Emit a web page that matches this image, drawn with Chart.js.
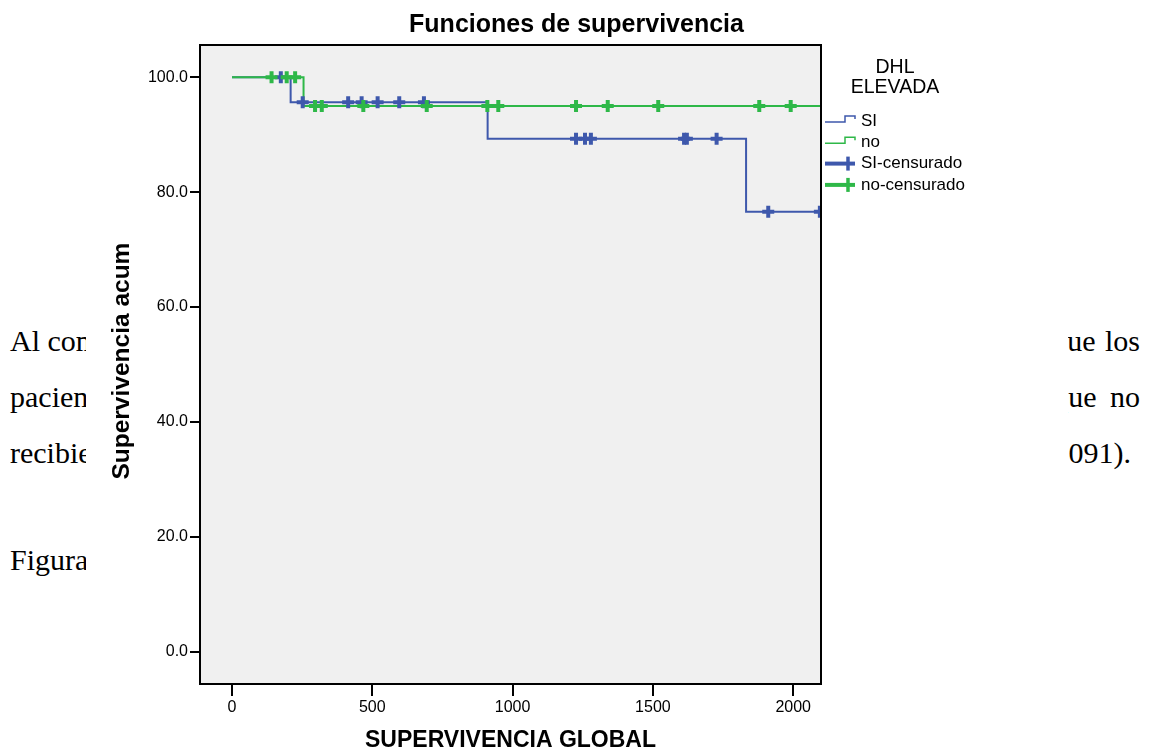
<!DOCTYPE html>
<html>
<head>
<meta charset="utf-8">
<script src="https://cdn.jsdelivr.net/npm/chart.js@4.4.0/dist/chart.umd.min.js"></script>
<style>
  html, body { margin: 0; padding: 0; background: #fff; }
  body { width: 1153px; height: 754px; position: relative; overflow: hidden; }
  .doc { position: absolute; font-family: "Liberation Serif", "Times New Roman", serif; font-size: 30px; line-height: 30px; color: #000; white-space: nowrap; }
  .r { text-align: right; }
  #wrap { position: absolute; left: 0; top: 0; width: 1153px; height: 754px; }
</style>
</head>
<body>
<div class="doc" style="left:10px;top:326px">Al comparar</div>
<div class="doc" style="left:10px;top:382px">pacientes</div>
<div class="doc" style="left:10px;top:438px">recibieron</div>
<div class="doc" style="left:10px;top:545px">Figura 5.</div>
<div class="doc r" style="right:13px;top:326px;word-spacing:2px">que los</div>
<div class="doc r" style="right:13px;top:382px;word-spacing:6px">que no</div>
<div class="doc r" style="right:22px;top:438px">(p=0.091).</div>

<div id="wrap"><canvas id="chart" width="1153" height="754"></canvas></div>

<script>
// axis ticks
const xTicks = [0, 500, 1000, 1500, 2000];
const yTicks = [0, 20, 40, 60, 80, 100];

// Kaplan-Meier steps (time, cumulative survival %)
const siTimes = [0, 209, 911, 1832, 2099];
const siSurv = [100, 95.65, 89.3, 76.6, 76.6];
const noTimes = [0, 255, 2099];
const noSurv = [100, 95.0, 95.0];

// censored cases
const siCensTimes = [174, 252, 414, 462, 519, 596, 684, 1226, 1258, 1279, 1611, 1621, 1727, 1911, 2095];
const siCensSurv = [100, 95.65, 95.65, 95.65, 95.65, 95.65, 95.65, 89.3, 89.3, 89.3, 89.3, 89.3, 89.3, 76.6, 76.6];
const noCensTimes = [141, 195, 225, 296, 320, 468, 694, 910, 949, 1226, 1339, 1519, 1879, 1991];
const noCensSurv = [100, 100, 100, 95, 95, 95, 95, 95, 95, 95, 95, 95, 95, 95];

const legendTitle = ["DHL", "ELEVADA"];
const legendLabels = ["SI", "no", "SI-censurado", "no-censurado"];

const BLUE = "#3e58ac";
const GREEN = "#2eb848";
const FONT = "'Liberation Sans', Arial, sans-serif";

const toPoints = (xs, ys) => xs.map((x, i) => ({ x: x, y: ys[i] }));

/**
 * Draws the white picture box, grey plot area, frame and the legend
 */
const frame = {
  id: "frame",
  beforeDraw(chart) {
    const { ctx, chartArea: a } = chart;
    ctx.save();
    ctx.fillStyle = "#fff";
    ctx.fillRect(86, 0, 1068 - 86, chart.height);
    ctx.fillStyle = "#f0f0f0";
    ctx.fillRect(a.left, a.top, a.right - a.left, a.bottom - a.top);
    ctx.restore();
  },
  afterDraw(chart) {
    const { ctx, chartArea: a } = chart;
    ctx.save();
    ctx.strokeStyle = "#000";
    ctx.lineWidth = 2;
    ctx.strokeRect(a.left, a.top, a.right - a.left, a.bottom - a.top);

    // legend
    ctx.fillStyle = "#000";
    ctx.font = "19.5px " + FONT;
    ctx.textAlign = "center";
    ctx.textBaseline = "middle";
    ctx.fillText(legendTitle[0], 895, 68);
    ctx.fillText(legendTitle[1], 895, 88);

    ctx.font = "17px " + FONT;
    ctx.textAlign = "left";
    const colors = [BLUE, GREEN, BLUE, GREEN];
    legendLabels.forEach((label, i) => {
      const y = 121 + i * 21.3;
      ctx.strokeStyle = colors[i];
      if (i < 2) {
        ctx.lineWidth = 1.5;
        ctx.beginPath();
        ctx.moveTo(825, y + 1);
        ctx.lineTo(845, y + 1);
        ctx.lineTo(845, y - 5);
        ctx.lineTo(855, y - 5);
        ctx.lineTo(855, y - 2);
        ctx.stroke();
      } else {
        ctx.lineWidth = 4;
        ctx.beginPath();
        ctx.moveTo(825, y);
        ctx.lineTo(855, y);
        ctx.stroke();
        ctx.lineWidth = 3.5;
        ctx.beginPath();
        ctx.moveTo(848, y - 7);
        ctx.lineTo(848, y + 7);
        ctx.stroke();
      }
      ctx.fillStyle = "#000";
      ctx.fillText(label, 861, y);
    });
    ctx.restore();
  },
};

const ctx = document.getElementById("chart").getContext("2d");
new Chart(ctx, {
  type: "line",
  data: {
    datasets: [
      {
        label: legendLabels[0],
        data: toPoints(siTimes, siSurv),
        borderColor: BLUE,
        borderWidth: 2,
        stepped: true,
        pointRadius: 0,
        fill: false,
        order: 4,
      },
      {
        label: legendLabels[1],
        data: toPoints(noTimes, noSurv),
        borderColor: GREEN,
        borderWidth: 2,
        stepped: true,
        pointRadius: 0,
        fill: false,
        order: 3,
      },
      {
        label: legendLabels[2],
        data: toPoints(siCensTimes, siCensSurv),
        showLine: false,
        pointStyle: "cross",
        pointRadius: 6,
        pointBorderWidth: 4,
        borderColor: BLUE,
        backgroundColor: BLUE,
        order: 2,
      },
      {
        label: legendLabels[3],
        data: toPoints(noCensTimes, noCensSurv),
        showLine: false,
        pointStyle: "cross",
        pointRadius: 6,
        pointBorderWidth: 4,
        borderColor: GREEN,
        backgroundColor: GREEN,
        order: 1,
      },
    ],
  },
  options: {
    responsive: false,
    animation: false,
    devicePixelRatio: 1,
    layout: { padding: 0 },
    events: [],
    plugins: {
      legend: { display: false },
      tooltip: { enabled: false },
      title: {
        display: true,
        text: "Funciones de supervivencia",
        color: "#000",
        font: { family: FONT, size: 25, weight: "bold", lineHeight: 1.2 },
        padding: { top: 10, bottom: 5 },
      },
    },
    scales: {
      x: {
        type: "linear",
        min: -114,
        max: 2099,
        afterBuildTicks: (scale) => {
          scale.ticks = xTicks.map((v) => ({ value: v }));
        },
        afterFit: (scale) => {
          scale.height = 70;
        },
        ticks: {
          color: "#000",
          font: { family: FONT, size: 16 },
          padding: 2,
          maxRotation: 0,
          callback: (v) => String(v),
        },
        grid: { display: true, drawOnChartArea: false, drawTicks: true, tickLength: 12, color: "#000", lineWidth: 2 },
        border: { display: true, color: "#000", width: 2 },
        title: {
          display: true,
          text: "SUPERVIVENCIA GLOBAL",
          color: "#000",
          font: { family: FONT, size: 23, weight: "bold", lineHeight: 1.2 },
          padding: { top: 0, bottom: 0 },
        },
      },
      y: {
        type: "linear",
        position: "left",
        min: -5.6,
        max: 105.6,
        afterBuildTicks: (scale) => {
          scale.ticks = yTicks.map((v) => ({ value: v }));
        },
        afterFit: (scale) => {
          scale.width = 200;
        },
        ticks: {
          color: "#000",
          font: { family: FONT, size: 16 },
          padding: 2,
          callback: (v) => Number(v).toFixed(1),
        },
        grid: { display: true, drawOnChartArea: false, drawTicks: true, tickLength: 10, color: "#000", lineWidth: 2 },
        border: { display: true, color: "#000", width: 2 },
        title: {
          display: true,
          text: " Supervivencia acum",
          color: "#000",
          font: { family: FONT, size: 24.5, weight: "bold", lineHeight: 1.2 },
          padding: { top: 108, bottom: 0 },
        },
      },
      // empty right axis that keeps room for the legend
      y2: {
        type: "linear",
        position: "right",
        min: -5.6,
        max: 105.6,
        afterFit: (scale) => {
          scale.width = 332;
        },
        ticks: { display: false },
        grid: { display: false, drawTicks: false },
        border: { display: true, color: "#000", width: 2 },
      },
    },
  },
  plugins: [frame],
});
</script>
</body>
</html>
